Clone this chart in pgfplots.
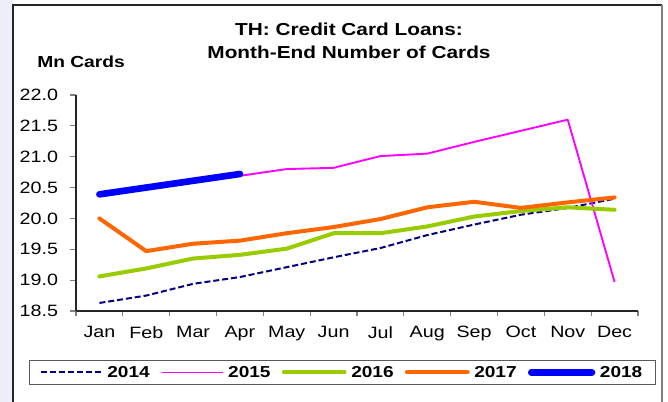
\documentclass[border=0pt]{standalone}
\usepackage{pgfplots}
\pgfplotsset{compat=1.18}
\usepackage{fontspec}
\setmainfont{Liberation Sans}[FakeStretch=1.2]
\definecolor{c2014}{RGB}{0,0,128}
\definecolor{c2015}{RGB}{255,0,255}
\definecolor{c2016}{RGB}{153,204,0}
\definecolor{c2017}{RGB}{255,102,0}
\definecolor{c2018}{RGB}{0,0,255}
\definecolor{lav}{RGB}{236,238,248}
\begin{document}
\begin{tikzpicture}[x=0.75pt,y=0.75pt]
\useasboundingbox (0,0) rectangle (668,402);
\fill[lav] (0,0) rectangle (13,402);
% outer frame (image coords: y down)
\draw[black!85, line width=1pt] (13,0) -- (13,397) -- (662,397);
\draw[gray, line width=1.6pt] (662,397) -- (662,0);
\node[anchor=base, font=\fontsize{13pt}{15pt}\selectfont\bfseries] at (349,402-35.7) {TH: Credit Card Loans:};
\node[anchor=base, font=\fontsize{13pt}{15pt}\selectfont\bfseries] at (349,402-58.3) {Month-End Number of Cards};
\node[anchor=base west, inner sep=0pt, font=\fontsize{12pt}{14pt}\selectfont\bfseries] at (37,402-68) {Mn Cards};
\begin{axis}[
  at={(57pt,68.25pt)}, anchor=south west,
  scale only axis, width=421.5pt, height=162pt,
  xmin=0.5, xmax=12.5, ymin=18.5, ymax=22.0,
  axis x line*=bottom, axis y line*=left,
  axis line style={black!85, line width=0.8pt},
  xtick={1,...,12},
  xticklabels={Jan,Feb,Mar,Apr,May,Jun,Jul,Aug,Sep,Oct,Nov,Dec},
  minor xtick={0.5,1.5,...,12.5},
  major x tick style={draw=none},
  minor x tick style={gray, line width=0.8pt},
  minor tick length=3.75pt,
  ytick={18.5,19,...,22},
  yticklabels={18.5,19.0,19.5,20.0,20.5,21.0,21.5,22.0},
  major y tick style={gray, line width=0.8pt},
  major tick length=4.5pt,
  tick align=outside,
  tick label style={font=\fontsize{12.3pt}{14pt}\selectfont},
  yticklabel style={xshift=-5.5pt},
  xticklabel style={yshift=-3.5pt},
  clip=false,
  legend columns=5,
  legend style={at={(axis description cs:0.4742,-0.2847)}, anchor=center,
    draw=black!65, line width=0.8pt, inner xsep=8pt, inner ysep=2pt,
    font=\fontsize{11.9pt}{13pt}\selectfont\bfseries,
    /tikz/every odd column/.append style={column sep=1.5pt},
    /tikz/every even column/.append style={column sep=6.5pt}},
  legend cell align=left,
  legend image code/.code={\draw[#1] (0pt,0pt) -- (45.5pt,0pt);},
]
\addplot[c2014, line width=1.5pt, dash pattern=on 4.5pt off 2.2pt] coordinates {
(1,18.63) (2,18.75) (3,18.94) (4,19.05) (5,19.21) (6,19.37) (7,19.52) (8,19.73) (9,19.90) (10,20.06) (11,20.17) (12,20.32)};
\addlegendentry{2014}
\addplot[c2015, line width=1.4pt, line join=round] coordinates {
(1,20.39) (2,20.50) (3,20.59) (4,20.69) (5,20.80) (6,20.82) (7,21.01) (8,21.05) (9,21.24) (10,21.42) (11,21.60) (12,18.97)};
\addlegendentry{2015}
\addplot[c2016, line width=3pt, line cap=round, line join=round] coordinates {
(1,19.06) (2,19.19) (3,19.35) (4,19.41) (5,19.51) (6,19.76) (7,19.76) (8,19.87) (9,20.03) (10,20.12) (11,20.18) (12,20.14)};
\addlegendentry{2016}
\addplot[c2017, line width=3pt, line cap=round, line join=round] coordinates {
(1,20.00) (2,19.47) (3,19.59) (4,19.64) (5,19.76) (6,19.86) (7,19.99) (8,20.18) (9,20.27) (10,20.17) (11,20.26) (12,20.34)};
\addlegendentry{2017}
\addplot[c2018, line width=5pt, line cap=round, line join=round] coordinates {
(1,20.39) (2,20.50) (3,20.61) (4,20.72)};
\addlegendentry{2018}
\end{axis}
\end{tikzpicture}
\end{document}
